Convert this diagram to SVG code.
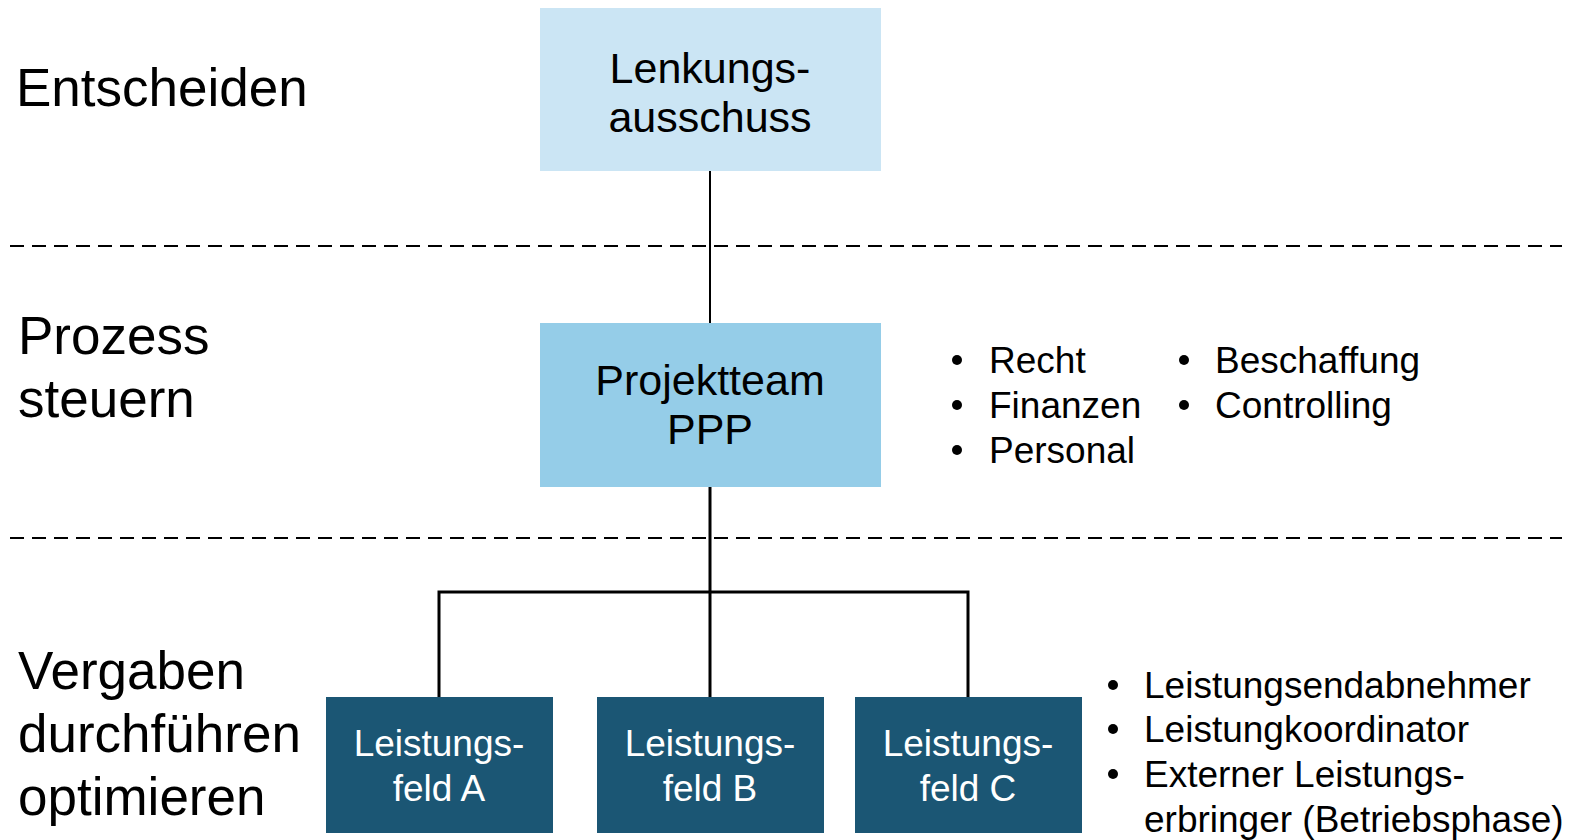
<svg xmlns="http://www.w3.org/2000/svg" width="1576" height="840" viewBox="0 0 1576 840">
<style>
text{font-family:"Liberation Sans",Arial,sans-serif;fill:#000}
.lab{font-size:53px}
.box1{fill:#CBE5F4}
.box2{fill:#95CDE8}
.box3{fill:#1B5674}
.bt{font-size:43px;text-anchor:middle}
.wt{font-size:37px;text-anchor:middle;fill:#fff}
.bul{font-size:37px}
.dot{fill:#000}
.dash{stroke:#000;stroke-width:2;stroke-dasharray:14 8;fill:none}
.con{stroke:#000;stroke-width:3;fill:none}
</style>
<rect width="1576" height="840" fill="#fff"/>
<g id="separators">
<line class="dash" x1="10" y1="246" x2="1562" y2="246"/>
<line class="dash" x1="10" y1="538" x2="1562" y2="538"/>
</g>
<g id="labels">
<text class="lab" x="16" y="106">Entscheiden</text>
<text class="lab" x="18" y="354">Prozess</text>
<text class="lab" x="18" y="417">steuern</text>
<text class="lab" x="18" y="689">Vergaben</text>
<text class="lab" x="18" y="752">durchführen</text>
<text class="lab" x="18" y="815">optimieren</text>
</g>
<g id="connectors">
<line class="con" x1="710" y1="171" x2="710" y2="323" style="stroke-width:2"/>
<line class="con" x1="710" y1="487" x2="710" y2="697"/>
<polyline class="con" points="439,697 439,592 968,592 968,697"/>
</g>
<g id="lenkungsausschuss">
<rect class="box1" x="540" y="8" width="341" height="163"/>
<text class="bt" x="710" y="83">Lenkungs-</text>
<text class="bt" x="710" y="132">ausschuss</text>
</g>
<g id="projektteam">
<rect class="box2" x="540" y="323" width="341" height="164"/>
<text class="bt" x="710" y="395">Projektteam</text>
<text class="bt" x="710" y="444">PPP</text>
</g>
<g id="leistungsfeld-a">
<rect class="box3" x="326" y="697" width="227" height="136"/>
<text class="wt" x="439" y="756">Leistungs-</text>
<text class="wt" x="439" y="801">feld A</text>
</g>
<g id="leistungsfeld-b">
<rect class="box3" x="597" y="697" width="227" height="136"/>
<text class="wt" x="710" y="756">Leistungs-</text>
<text class="wt" x="710" y="801">feld B</text>
</g>
<g id="leistungsfeld-c">
<rect class="box3" x="855" y="697" width="227" height="136"/>
<text class="wt" x="968" y="756">Leistungs-</text>
<text class="wt" x="968" y="801">feld C</text>
</g>
<g id="bullets-team">
<circle class="dot" cx="957" cy="360" r="5"/><text class="bul" x="989" y="373">Recht</text>
<circle class="dot" cx="957" cy="405" r="5"/><text class="bul" x="989" y="418">Finanzen</text>
<circle class="dot" cx="957" cy="450" r="5"/><text class="bul" x="989" y="463">Personal</text>
<circle class="dot" cx="1184" cy="360" r="5"/><text class="bul" x="1215" y="373">Beschaffung</text>
<circle class="dot" cx="1184" cy="405" r="5"/><text class="bul" x="1215" y="418">Controlling</text>
</g>
<g id="bullets-leistung">
<circle class="dot" cx="1113" cy="685" r="5"/><text class="bul" x="1144" y="698">Leistungsendabnehmer</text>
<circle class="dot" cx="1113" cy="729" r="5"/><text class="bul" x="1144" y="742">Leistungkoordinator</text>
<circle class="dot" cx="1113" cy="774" r="5"/><text class="bul" x="1144" y="787">Externer Leistungs-</text>
<text class="bul" x="1144" y="832">erbringer (Betriebsphase)</text>
</g>
</svg>
